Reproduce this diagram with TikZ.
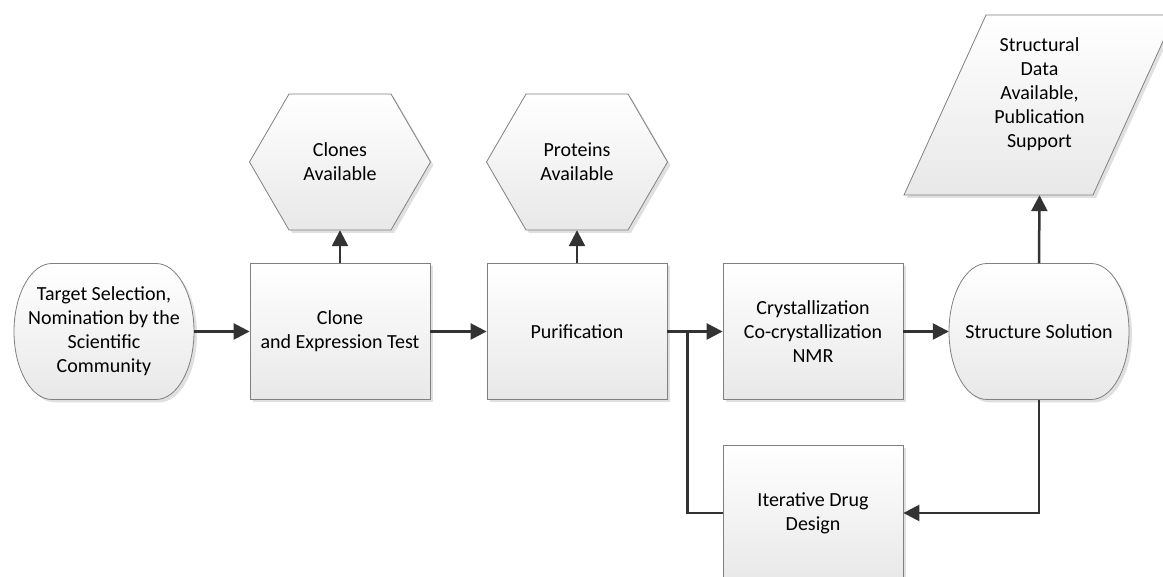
\documentclass[tikz,border=0pt]{standalone}
\usepackage{fontspec}
\setmainfont{Carlito}
\usetikzlibrary{arrows.meta,shadows}
\begin{document}
\begin{tikzpicture}[x=1pt, y=1pt, >={Triangle[length=16pt,width=16pt]},
  font=\fontsize{20}{24}\selectfont,
  flowshape/.style={draw=black!50, line width=0.8pt, top color=white, bottom color=black!9,
    drop shadow={shadow xshift=3pt, shadow yshift=-3pt, fill=black, opacity=0.12}},
  box/.style={flowshape, rectangle, minimum width=180pt, minimum height=136pt, align=center},
  lbl/.style={align=center, minimum width=180pt, minimum height=136pt},
  flow/.style={draw=black!80, line width=2.5pt}]
\useasboundingbox (0,0) rectangle (1163,577);
% process boxes
\foreach \n/\x/\y/\t in {clone/340/245.5/{Clone\\and Expression Test}, purif/577/245.5/Purification,
  cryst/813/245.5/{Crystallization\\Co-crystallization\\NMR}, drug/813/64/{Iterative Drug\\Design}}
  \node[box] (\n) at (\x,\y) {\t};
% terminators
\foreach \n/\x/\t in {target/104/{Target Selection,\\Nomination by the\\Scientific\\Community}, struct/1039/Structure Solution}{
  \path[flowshape] (\x-52,313.5) -- (\x+52,313.5) arc[start angle=90, end angle=-90, x radius=38pt, y radius=68pt]
    -- (\x-52,177.5) arc[start angle=270, end angle=90, x radius=38pt, y radius=68pt] -- cycle;
  \node[lbl] (\n) at (\x,245.5) {\t};}
% hexagons
\foreach \n/\x/\t in {clones/340/{Clones\\Available}, prots/577/{Proteins\\Available}}{
  \path[flowshape] (\x-90.5,415) -- (\x-51,483) -- (\x+51,483) -- (\x+90.5,415) -- (\x+51,347) -- (\x-51,347) -- cycle;
  \node[lbl, minimum width=181pt] (\n) at (\x,415) {\t};}
% data
\path[flowshape] (904,382) -- (1093,382) -- (1175,562) -- (986,562) -- cycle;
\node[align=center, minimum height=202pt] (data) at (1039.5,483) {Structural\\Data\\Available,\\Publication\\Support};
% connectors
\coordinate (split) at ([xshift=20pt]purif.east);
\draw[flow, ->] (target.east) -- (clone.west);
\draw[flow, ->] (clone.east) -- (purif.west);
\draw[flow, ->] (clone.north) -- (clones.south);
\draw[flow, ->] (purif.north) -- (prots.south);
\draw[flow, ->] (purif.east) -- (cryst.west);
\draw[flow, ->] (cryst.east) -- (struct.west);
\draw[flow, ->] (struct.north) -- (data.south);
\draw[flow, ->] (struct.south) |- (drug.east);
\draw[flow] (drug.west) -| (split);
\end{tikzpicture}
\end{document}
